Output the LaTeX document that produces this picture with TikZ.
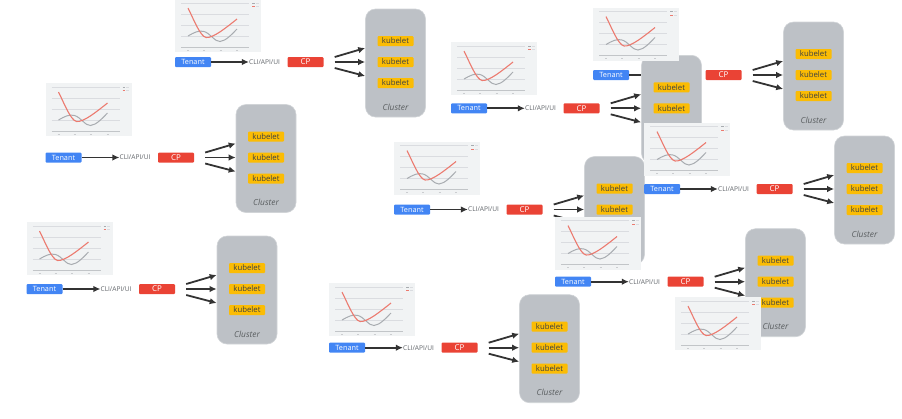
\documentclass[tikz,border=0pt]{standalone}
\usepackage{fontspec}
\setmainfont{Open Sans}
\usepackage{tikz}
\usetikzlibrary{arrows.meta}

\definecolor{gblue}{HTML}{4285F4}
\definecolor{gred}{HTML}{EA4335}
\definecolor{gyellow}{HTML}{FBBC04}
\definecolor{ggray}{HTML}{BDC1C6}
\definecolor{gtext}{HTML}{3C4043}
\definecolor{gsub}{HTML}{5F6368}
\definecolor{chartbg}{HTML}{F1F3F4}
\definecolor{gridc}{HTML}{DADCE0}
\definecolor{redline}{HTML}{EC7A6F}
\definecolor{grayline}{HTML}{A8ACB0}
\definecolor{arrowc}{HTML}{333333}

% one row: Tenant -> CLI/API/UI, CP -> Cluster; #1 = id, (#2,#3) = centre of Tenant
\newcommand{\tenantunit}[3]{
 \begin{scope}[shift={(#2,#3)}]
 \node (tenant#1) at (0,0) [tenant] {Tenant};
 \node (cli#1) at (71.5,0) [cli] {CLI/API/UI};
 \node (cp#1) at (112.5,0) [cp] {CP};
 \node (cluster#1) at (202.5,1) [cluster] {};
 \node (kubA#1) at (202.5,-21) [kubelet] {kubelet};
 \node (kubB#1) at (202.5,0) [kubelet] {kubelet};
 \node (kubC#1) at (202.5,21) [kubelet] {kubelet};
 \node (name#1) at (202.5,45) [clustername] {Cluster};
 \draw [flow] (tenant#1) -- (cli#1);
 \draw [flow] ([shift={(11,-5)}]cp#1.east) -- ([shift={(0,-15)}]cluster#1.west);
 \draw [flow] ([shift={(11,0)}]cp#1.east) -- ([shift={(0,-1)}]cluster#1.west);
 \draw [flow] ([shift={(11,6)}]cp#1.east) -- ([shift={(0,13)}]cluster#1.west);
 \end{scope}
}

% small line chart screenshot, (#1,#2) = top left corner
\newcommand{\minichart}[2]{
 \begin{scope}[shift={(#1,#2)}]
 \fill [chartbg] (0,0) rectangle (86,53);
 \draw [gridc,line width=0.3bp] (6,4) -- (74,4);
 \draw [gridc,line width=0.3bp] (6,15) -- (74,15);
 \draw [gridc,line width=0.3bp] (6,26) -- (74,26);
 \draw [gridc,line width=0.3bp] (6,37) -- (74,37);
 \draw [grayline!70,line width=0.4bp] (6,48) -- (74,48);
 \draw [grayline!60,line width=0.5bp] (12,51) -- (14,51) (28,51) -- (30,51)
       (44.5,51) -- (46.5,51) (61,51) -- (63,51);
 \draw [grayline,line width=0.5bp] (77,4) -- (79.5,4);
 \draw [redline,line width=0.5bp] (77,7.5) -- (79.5,7.5);
 \draw [gridc,line width=0.5bp] (80.5,4) -- (83.5,4) (80.5,7.5) -- (83.5,7.5);
 \draw [grayline,line width=1bp] (13,37) .. controls (19,33.5) and (24,31) .. (29,32.5)
       .. controls (35,34) and (40,43) .. (45,42.5) .. controls (51,42) and (57,35) .. (62,30);
 \draw [redline,line width=1.1bp] (13,9) .. controls (19,21) and (25,37) .. (31,38.5)
       .. controls (38,39.5) and (52,28) .. (62,20);
 \end{scope}
}

\begin{document}
\begin{tikzpicture}[>={Latex[length=7bp,width=6.5bp]},x=1bp,y=-1bp]
 \tikzstyle{box}=[inner sep=0pt,minimum height=10bp,rounded corners=1bp]
 \tikzstyle{tenant}=[box,fill=gblue,text=white,minimum width=36bp,font=\fontsize{7.3}{8}\selectfont]
 \tikzstyle{cp}=[box,fill=gred,text=white,minimum width=36bp,font=\fontsize{8}{8}\selectfont]
 \tikzstyle{kubelet}=[box,fill=gyellow,text=gtext,minimum width=36bp,font=\fontsize{7.8}{8}\selectfont]
 \tikzstyle{cli}=[inner sep=0pt,text=gsub,font=\fontsize{6.6}{7}\selectfont]
 \tikzstyle{cluster}=[fill=ggray,draw=ggray!70,line width=0.6bp,rounded corners=10bp,
                      minimum width=60bp,minimum height=108bp,inner sep=0pt]
 \tikzstyle{clustername}=[text=gtext!85,font=\fontsize{8.4}{9}\selectfont\itshape]
 \tikzstyle{flow}=[->,draw=arrowc,line width=1.8bp]

 \useasboundingbox (0,0) rectangle (902,418);

 \tenantunit{1}{193}{62}
 \tenantunit{2}{63.5}{157.5}
 \tenantunit{3}{44.5}{289}
 \tenantunit{4}{347}{347.7}
 \tenantunit{5}{412}{209.5}
 \tenantunit{8}{662}{189}
 \tenantunit{9}{573}{281.7}
 \tenantunit{7}{611}{75}
 \tenantunit{6}{469}{108.3}

 % the screenshots sit on top
 \minichart{175}{-1}
 \minichart{45.5}{83}
 \minichart{26.5}{222}
 \minichart{329}{283}
 \minichart{394}{141.5}
 \minichart{451}{42}
 \minichart{593}{7.5}
 \minichart{644}{122.5}
 \minichart{555}{216.5}
 \minichart{675}{297}
\end{tikzpicture}
\end{document}
